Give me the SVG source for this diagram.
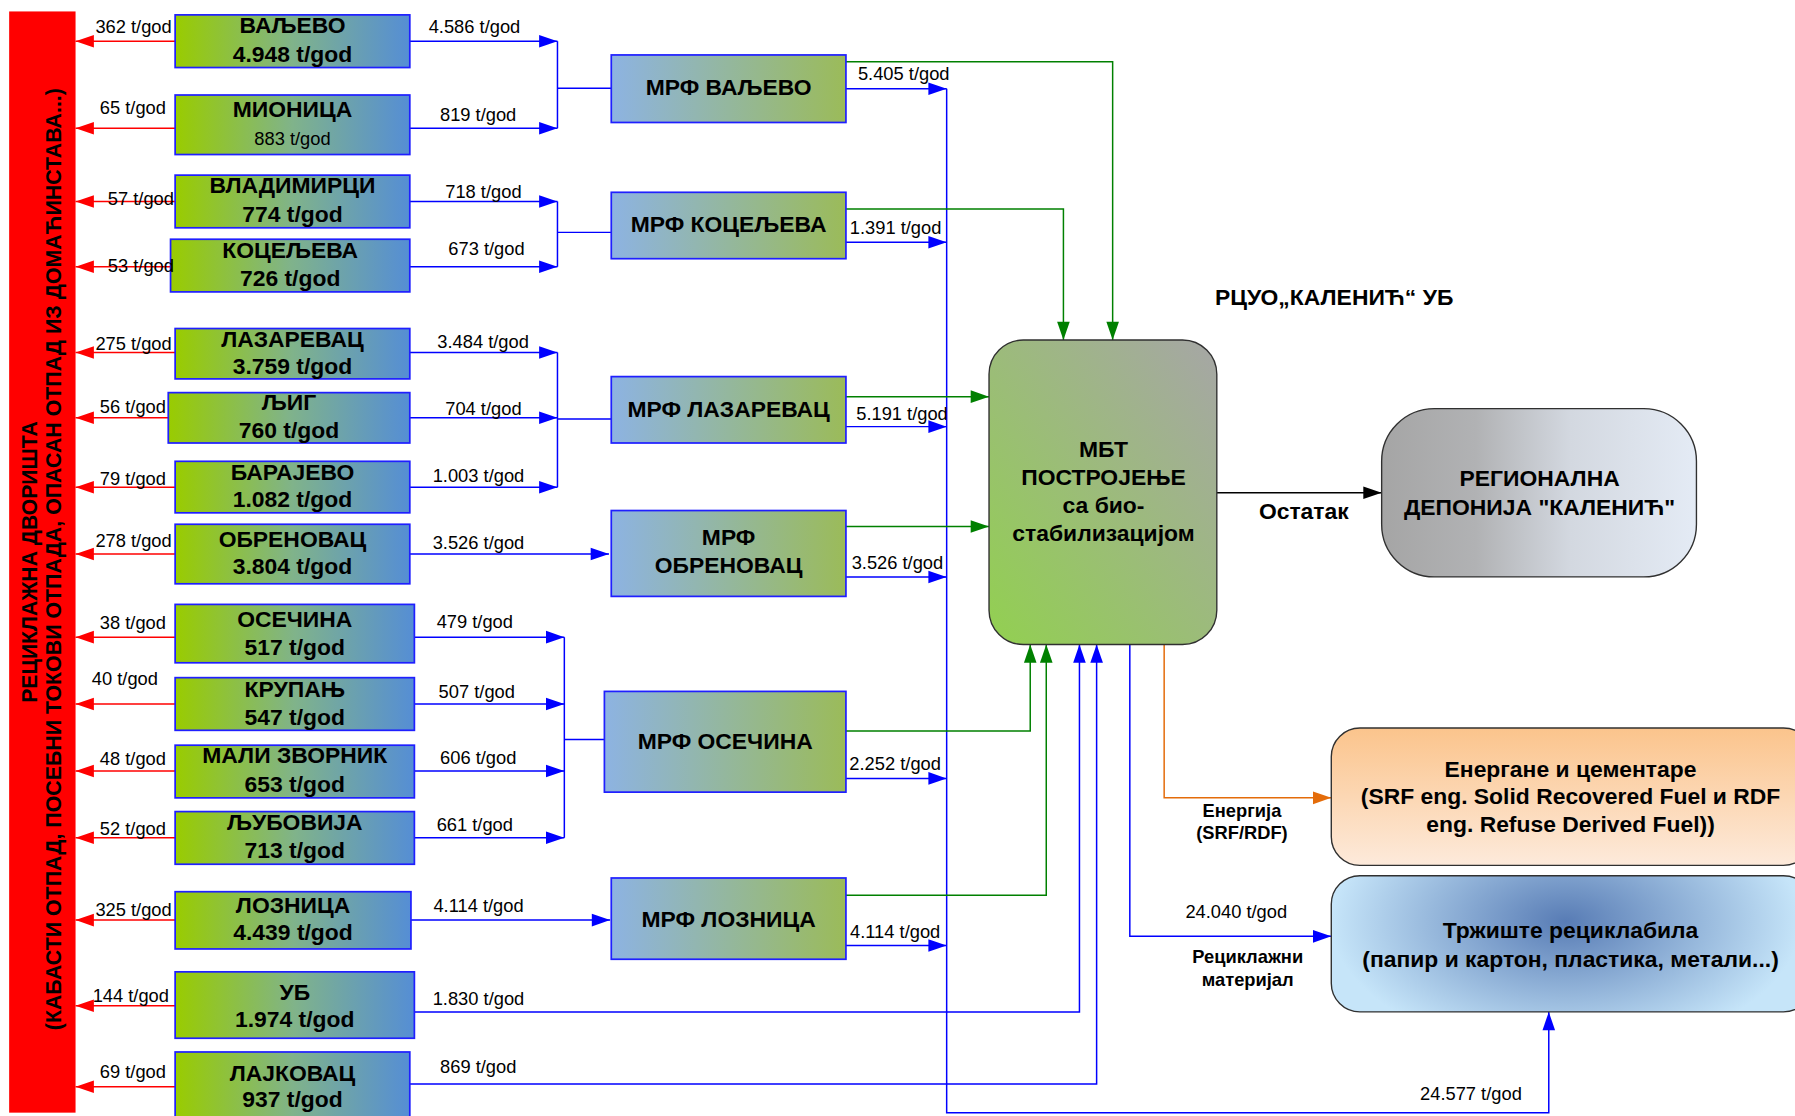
<svg xmlns="http://www.w3.org/2000/svg" width="1795" height="1116" viewBox="0 0 1795 1116">
<defs>
<style>
.muni rect{fill:url(#gMuni);stroke:#1f1fff;stroke-width:1.5}
.mrf rect{fill:url(#gMrf);stroke:#1f1fff;stroke-width:1.5}
text{font-family:"Liberation Sans",Arial,sans-serif;fill:#000}
.b20{font-size:20px;font-weight:bold;text-anchor:middle}
.b16{font-size:16px;font-weight:bold;text-anchor:middle}
.r16{font-size:16px}
.r16m{font-size:16px;text-anchor:middle}
.lr{text-anchor:end}
.blue{stroke:#0000ff;stroke-width:1.3;fill:none}
.red{stroke:#ff0000;stroke-width:1.3;fill:none}
.green{stroke:#008000;stroke-width:1.3;fill:none}
.black{stroke:#000;stroke-width:1.3;fill:none}
.orange{stroke:#e46c0a;stroke-width:1.3;fill:none}
</style>
<linearGradient id="gMuni" x1="0" y1="0" x2="1" y2="0"><stop offset="0" stop-color="#99cc00"/><stop offset="0.5" stop-color="#80b38a"/><stop offset="1" stop-color="#558ed5"/></linearGradient>
<linearGradient id="gMrf" x1="0" y1="0" x2="1" y2="0"><stop offset="0" stop-color="#8db3e2"/><stop offset="1" stop-color="#9bbb59"/></linearGradient>
<linearGradient id="gMbt" x1="1" y1="0" x2="0" y2="1"><stop offset="0" stop-color="#a6a6a6"/><stop offset="1" stop-color="#92d050"/></linearGradient>
<linearGradient id="gDep" x1="0" y1="0" x2="1" y2="0"><stop offset="0" stop-color="#a5a5a5"/><stop offset="0.3" stop-color="#b1b2b4"/><stop offset="0.6" stop-color="#d3d8e0"/><stop offset="1" stop-color="#e4ebf5"/></linearGradient>
<linearGradient id="gEn" x1="0" y1="0" x2="0" y2="1"><stop offset="0" stop-color="#fbc48c"/><stop offset="1" stop-color="#fdeadb"/></linearGradient>
<radialGradient id="gTr" gradientUnits="userSpaceOnUse" cx="0" cy="0" r="1" gradientTransform="translate(1368,805) scale(205,115)"><stop offset="0" stop-color="#587cb5"/><stop offset="1" stop-color="#c6e5f9"/></radialGradient>
<marker id="aB" markerUnits="userSpaceOnUse" markerWidth="16" markerHeight="11" refX="16" refY="5.5" orient="auto" overflow="visible"><path d="M0,0L16,5.5L0,11z" fill="#0000ff"/></marker>
<marker id="aR" markerUnits="userSpaceOnUse" markerWidth="16" markerHeight="11" refX="16" refY="5.5" orient="auto" overflow="visible"><path d="M0,0L16,5.5L0,11z" fill="#ff0000"/></marker>
<marker id="aG" markerUnits="userSpaceOnUse" markerWidth="16" markerHeight="11" refX="16" refY="5.5" orient="auto" overflow="visible"><path d="M0,0L16,5.5L0,11z" fill="#008000"/></marker>
<marker id="aK" markerUnits="userSpaceOnUse" markerWidth="16" markerHeight="11" refX="16" refY="5.5" orient="auto" overflow="visible"><path d="M0,0L16,5.5L0,11z" fill="#000"/></marker>
<marker id="aO" markerUnits="userSpaceOnUse" markerWidth="16" markerHeight="11" refX="16" refY="5.5" orient="auto" overflow="visible"><path d="M0,0L16,5.5L0,11z" fill="#e46c0a"/></marker>
</defs>
<rect width="1795" height="1116" fill="#fff"/>
<g transform="scale(1.1447)">

<g id="reciklazna-dvorista">
<rect x="8" y="10" width="58" height="962" fill="#ff0000"/>
<text transform="translate(32,491) rotate(-90)" style="font-size:20px;font-weight:bold;text-anchor:middle" textLength="246" lengthAdjust="spacingAndGlyphs">РЕЦИКЛАЖНА ДВОРИШТА</text>
<text transform="translate(53.5,488.5) rotate(-90)" style="font-size:19px;font-weight:bold;text-anchor:middle" textLength="823" lengthAdjust="spacingAndGlyphs">(КАБАСТИ ОТПАД, ПОСЕБНИ ТОКОВИ ОТПАДА, ОПАСАН ОТПАД ИЗ ДОМАЋИНСТАВА...)</text>
</g>

<g id="connectors">
<path class="red" marker-end="url(#aR)" d="M153,36H66"/>
<path class="red" marker-end="url(#aR)" d="M153,112H66"/>
<path class="red" marker-end="url(#aR)" d="M153,176H66"/>
<path class="red" marker-end="url(#aR)" d="M149,233H66"/>
<path class="red" marker-end="url(#aR)" d="M153,308H66"/>
<path class="red" marker-end="url(#aR)" d="M147,365H66"/>
<path class="red" marker-end="url(#aR)" d="M153,425.6H66"/>
<path class="red" marker-end="url(#aR)" d="M153,484H66"/>
<path class="red" marker-end="url(#aR)" d="M153,556.6H66"/>
<path class="red" marker-end="url(#aR)" d="M153,615H66"/>
<path class="red" marker-end="url(#aR)" d="M153,673.6H66"/>
<path class="red" marker-end="url(#aR)" d="M153,731.8H66"/>
<path class="red" marker-end="url(#aR)" d="M153,803.8H66"/>
<path class="red" marker-end="url(#aR)" d="M153,878.6H66"/>
<path class="red" marker-end="url(#aR)" d="M153,949.4H66"/>
<path class="blue" marker-end="url(#aB)" d="M358,36H487"/>
<path class="blue" marker-end="url(#aB)" d="M358,112H487"/>
<path class="blue" d="M487,36V112M487,77H534"/>
<path class="blue" marker-end="url(#aB)" d="M358,176H487"/>
<path class="blue" marker-end="url(#aB)" d="M358,233H487"/>
<path class="blue" d="M487,176V233M487,203H534"/>
<path class="blue" marker-end="url(#aB)" d="M358,308H487"/>
<path class="blue" marker-end="url(#aB)" d="M358,365H487"/>
<path class="blue" marker-end="url(#aB)" d="M358,425.6H487"/>
<path class="blue" d="M487,308V425.6M487,366H534"/>
<path class="blue" marker-end="url(#aB)" d="M358,484H532"/>
<path class="blue" marker-end="url(#aB)" d="M362,556.6H493"/>
<path class="blue" marker-end="url(#aB)" d="M362,615H493"/>
<path class="blue" marker-end="url(#aB)" d="M362,673.6H493"/>
<path class="blue" marker-end="url(#aB)" d="M362,731.8H493"/>
<path class="blue" d="M493,556.6V731.8M493,646H528"/>
<path class="blue" marker-end="url(#aB)" d="M359,803.8H533"/>
<path class="blue" marker-end="url(#aB)" d="M362,884H943V563"/>
<path class="blue" marker-end="url(#aB)" d="M358,947H958V563"/>
<path class="blue" marker-end="url(#aB)" d="M739,77.5H827"/>
<path class="blue" marker-end="url(#aB)" d="M739,211.6H827"/>
<path class="blue" marker-end="url(#aB)" d="M739,372.7H827"/>
<path class="blue" marker-end="url(#aB)" d="M739,504H827"/>
<path class="blue" marker-end="url(#aB)" d="M739,680H827"/>
<path class="blue" marker-end="url(#aB)" d="M739,826H827"/>
<path class="blue" marker-end="url(#aB)" d="M827,77.5V972H1353V884"/>
<path class="green" marker-end="url(#aG)" d="M739,54H972V297"/>
<path class="green" marker-end="url(#aG)" d="M739,182.6H929V297"/>
<path class="green" marker-end="url(#aG)" d="M739,346.5H864"/>
<path class="green" marker-end="url(#aG)" d="M739,460H864"/>
<path class="green" marker-end="url(#aG)" d="M739,638.6H900V563"/>
<path class="green" marker-end="url(#aG)" d="M739,782H914V563"/>
<path class="black" marker-end="url(#aK)" d="M1063,430.4H1207"/>
<path class="orange" marker-end="url(#aO)" d="M1017,563V697H1163"/>
<path class="blue" marker-end="url(#aB)" d="M987,563V818H1163"/>
</g>

<g id="valjevo" class="muni"><rect x="153" y="13" width="205" height="46"/><text class="b20" x="255.5" y="29">ВАЉЕВО</text><text class="b20" x="255.5" y="54">4.948 t/god</text></g>
<g id="mionica" class="muni"><rect x="153" y="83" width="205" height="52"/><text class="b20" x="255.5" y="102">МИОНИЦА</text><text class="r16m" x="255.5" y="127">883 t/god</text></g>
<g id="vladimirci" class="muni"><rect x="153" y="153" width="205" height="46"/><text class="b20" x="255.5" y="169">ВЛАДИМИРЦИ</text><text class="b20" x="255.5" y="193.6">774 t/god</text></g>
<g id="koceljeva" class="muni"><rect x="149" y="209" width="209" height="46"/><text class="b20" x="253.5" y="225.6">КОЦЕЉЕВА</text><text class="b20" x="253.5" y="250">726 t/god</text></g>
<g id="lazarevac" class="muni"><rect x="153" y="287" width="205" height="44"/><text class="b20" x="255.5" y="302.8">ЛАЗАРЕВАЦ</text><text class="b20" x="255.5" y="327">3.759 t/god</text></g>
<g id="ljig" class="muni"><rect x="147" y="343" width="211" height="44"/><text class="b20" x="252.5" y="358">ЉИГ</text><text class="b20" x="252.5" y="382.6">760 t/god</text></g>
<g id="barajevo" class="muni"><rect x="153" y="403" width="205" height="45"/><text class="b20" x="255.5" y="419.3">БАРАЈЕВО</text><text class="b20" x="255.5" y="443">1.082 t/god</text></g>
<g id="obrenovac" class="muni"><rect x="153" y="458" width="205" height="52"/><text class="b20" x="255.5" y="477.5">ОБРЕНОВАЦ</text><text class="b20" x="255.5" y="501.4">3.804 t/god</text></g>
<g id="osecina" class="muni"><rect x="153" y="528" width="209" height="51"/><text class="b20" x="257.5" y="547.5">ОСЕЧИНА</text><text class="b20" x="257.5" y="572">517 t/god</text></g>
<g id="krupanj" class="muni"><rect x="153" y="592" width="209" height="46"/><text class="b20" x="257.5" y="608.5">КРУПАЊ</text><text class="b20" x="257.5" y="633.3">547 t/god</text></g>
<g id="mali-zvornik" class="muni"><rect x="153" y="651" width="209" height="46"/><text class="b20" x="257.5" y="666.7">МАЛИ ЗВОРНИК</text><text class="b20" x="257.5" y="691.5">653 t/god</text></g>
<g id="ljubovija" class="muni"><rect x="153" y="709" width="209" height="46"/><text class="b20" x="257.5" y="725">ЉУБОВИЈА</text><text class="b20" x="257.5" y="749.6">713 t/god</text></g>
<g id="loznica" class="muni"><rect x="153" y="779" width="206" height="50"/><text class="b20" x="256" y="797.6">ЛОЗНИЦА</text><text class="b20" x="256" y="821">4.439 t/god</text></g>
<g id="ub" class="muni"><rect x="153" y="849" width="209" height="58"/><text class="b20" x="257.5" y="873.6">УБ</text><text class="b20" x="257.5" y="897">1.974 t/god</text></g>
<g id="lajkovac" class="muni"><rect x="153" y="919" width="205" height="62"/><text class="b20" x="255.5" y="944">ЛАЈКОВАЦ</text><text class="b20" x="255.5" y="966.7">937 t/god</text></g>

<g id="mrf-valjevo" class="mrf"><rect x="534" y="48" width="205" height="59"/><text class="b20" x="636.5" y="83">МРФ ВАЉЕВО</text></g>
<g id="mrf-koceljeva" class="mrf"><rect x="534" y="168" width="205" height="58"/><text class="b20" x="636.5" y="203">МРФ КОЦЕЉЕВА</text></g>
<g id="mrf-lazarevac" class="mrf"><rect x="534" y="329" width="205" height="58"/><text class="b20" x="636.5" y="364">МРФ ЛАЗАРЕВАЦ</text></g>
<g id="mrf-obrenovac" class="mrf"><rect x="534" y="446" width="205" height="75"/><text class="b20" x="636.5" y="476">МРФ</text><text class="b20" x="636.5" y="500.7">ОБРЕНОВАЦ</text></g>
<g id="mrf-osecina" class="mrf"><rect x="528" y="604" width="211" height="88"/><text class="b20" x="633.5" y="654">МРФ ОСЕЧИНА</text></g>
<g id="mrf-loznica" class="mrf"><rect x="534" y="767" width="205" height="71"/><text class="b20" x="636.5" y="809.5">МРФ ЛОЗНИЦА</text></g>

<g id="rcuo-title"><text class="b20" x="1165.5" y="266.5">РЦУО„КАЛЕНИЋ“ УБ</text></g>

<g id="mbt"><rect x="864" y="297" width="199" height="266" rx="30" fill="url(#gMbt)" stroke="#303030" stroke-width="1.2"/>
<text class="b20" x="964" y="399">МБТ</text><text class="b20" x="964" y="424">ПОСТРОЈЕЊЕ</text><text class="b20" x="964" y="448.5">са био-</text><text class="b20" x="964" y="473">стабилизацијом</text></g>

<g id="deponija"><rect x="1207" y="357" width="275" height="147" rx="46" fill="url(#gDep)" stroke="#303030" stroke-width="1.2"/>
<text class="b20" x="1345" y="425">РЕГИОНАЛНА</text><text class="b20" x="1345" y="450">ДЕПОНИЈА "КАЛЕНИЋ"</text></g>

<g id="energane"><rect x="1163" y="636" width="420" height="120" rx="25" fill="url(#gEn)" stroke="#303030" stroke-width="1.2"/>
<text class="b20" x="1372" y="678.5">Енергане и цементаре</text><text class="b20" x="1372" y="702.4">(SRF eng. Solid Recovered Fuel и RDF</text><text class="b20" x="1372" y="726.5">eng. Refuse Derived Fuel))</text></g>

<g id="trziste"><rect x="1163" y="765" width="420" height="119" rx="25" fill="url(#gTr)" stroke="#303030" stroke-width="1.2"/>
<text class="b20" x="1372" y="819.6">Тржиште рециклабила</text><text class="b20" x="1372" y="844.5">(папир и картон, пластика, метали...)</text></g>

<g id="connector-labels">
<text class="r16 lr" x="150" y="29">362 t/god</text>
<text class="r16 lr" x="145" y="100">65 t/god</text>
<text class="r16 lr" x="152" y="179">57 t/god</text>
<text class="r16 lr" x="152" y="238">53 t/god</text>
<text class="r16 lr" x="150" y="306">275 t/god</text>
<text class="r16 lr" x="145" y="361">56 t/god</text>
<text class="r16 lr" x="145" y="423.7">79 t/god</text>
<text class="r16 lr" x="150" y="477.6">278 t/god</text>
<text class="r16 lr" x="145" y="549.6">38 t/god</text>
<text class="r16 lr" x="138" y="598.4">40 t/god</text>
<text class="r16 lr" x="145" y="668">48 t/god</text>
<text class="r16 lr" x="145" y="729.5">52 t/god</text>
<text class="r16 lr" x="150" y="800">325 t/god</text>
<text class="r16 lr" x="147.6" y="875">144 t/god</text>
<text class="r16 lr" x="145" y="941.8">69 t/god</text>
<text class="r16m" x="414.5" y="29">4.586 t/god</text>
<text class="r16m" x="417.7" y="106">819 t/god</text>
<text class="r16m" x="422.3" y="173.4">718 t/god</text>
<text class="r16m" x="425" y="222.8">673 t/god</text>
<text class="r16m" x="422" y="304">3.484 t/god</text>
<text class="r16m" x="422.3" y="362.6">704 t/god</text>
<text class="r16m" x="418" y="420.8">1.003 t/god</text>
<text class="r16m" x="418" y="479.6">3.526 t/god</text>
<text class="r16m" x="414.8" y="548.8">479 t/god</text>
<text class="r16m" x="416.5" y="609.8">507 t/god</text>
<text class="r16m" x="417.8" y="667.4">606 t/god</text>
<text class="r16m" x="414.8" y="725.7">661 t/god</text>
<text class="r16m" x="418" y="796.5">4.114 t/god</text>
<text class="r16m" x="418" y="878">1.830 t/god</text>
<text class="r16m" x="417.8" y="937.6">869 t/god</text>
<text class="r16m" x="789.5" y="70">5.405 t/god</text>
<text class="r16m" x="782.4" y="204.7">1.391 t/god</text>
<text class="r16m" x="788" y="367">5.191 t/god</text>
<text class="r16m" x="784" y="497">3.526 t/god</text>
<text class="r16m" x="782" y="672.7">2.252 t/god</text>
<text class="r16m" x="782" y="819.5">4.114 t/god</text>
<text class="b20" x="1139" y="453">Остатак</text>
<text class="b16" x="1085" y="713.5">Енергија</text>
<text class="b16" x="1085" y="733">(SRF/RDF)</text>
<text class="r16m" x="1080" y="802">24.040 t/god</text>
<text class="b16" x="1090" y="841.5">Рециклажни</text>
<text class="b16" x="1090" y="861.5">материјал</text>
<text class="r16m" x="1285" y="961">24.577 t/god</text>
</g>

</g>
</svg>
